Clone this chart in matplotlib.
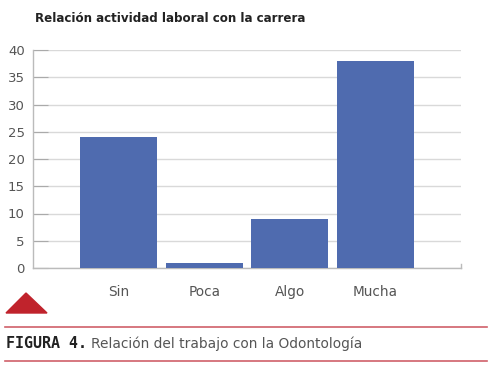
import matplotlib.pyplot as plt
from matplotlib.patches import Polygon
from matplotlib.lines import Line2D

categories = ["Sin", "Poca", "Algo", "Mucha"]
values = [24, 1, 9, 38]
yticks = [0, 5, 10, 15, 20, 25, 30, 35, 40]

bar_color = "#4F6BAF"
grid_color = "#d9d9d9"
text_color = "#555555"
red = "#c0232c"

fig = plt.figure(figsize=(4.91, 3.77), dpi=100)
ax = fig.add_axes([33 / 491, 1 - 268 / 377, 428 / 491, 218 / 377])

x = list(range(len(categories)))
ax.bar(x, values, width=0.9, color=bar_color, zorder=3)
ax.set_xlim(-1, 4)
ax.set_ylim(0, 40)
ax.set_yticks(yticks)
ax.set_xticks(x)
ax.set_xticklabels(categories)
ax.yaxis.grid(True, color=grid_color, linewidth=1, zorder=0)
for s in ["top", "right"]:
    ax.spines[s].set_visible(False)
for s in ["left", "bottom"]:
    ax.spines[s].set_color("#bbbbbb")
    ax.spines[s].set_linewidth(1)
ax.tick_params(axis="y", direction="in", length=11, color="#aaaaaa",
               labelsize=9.5, labelcolor=text_color, pad=6)
ax.tick_params(axis="x", length=0, labelsize=9.8, labelcolor=text_color, pad=12)
# small end tick on the bottom axis
ax.plot([4, 4], [0, 0.8], color="#bbbbbb", linewidth=1, clip_on=False)

fig.text(35 / 491, 1 - 19 / 377, "Relación actividad laboral con la carrera",
         fontsize=8.6, fontweight="bold", color="#222222", va="center")

# decorations
fig.patches.append(Polygon([[6 / 491, 1 - 313 / 377], [47 / 491, 1 - 313 / 377],
                            [26 / 491, 1 - 293 / 377]], closed=True,
                           transform=fig.transFigure, color=red))
for yy in [327, 361]:
    fig.lines.append(Line2D([5 / 491, 487 / 491], [1 - yy / 377] * 2,
                            transform=fig.transFigure, color="#d0606a", linewidth=1.2))

fig.text(6 / 491, 1 - 344 / 377, "FIGURA 4.", fontsize=10.8, fontweight="bold",
         family="DejaVu Sans Mono", color="#222222", va="center")
fig.text(91 / 491, 1 - 344 / 377, "Relación del trabajo con la Odontología",
         fontsize=9.9, color=text_color, va="center")

fig.savefig("out.png", dpi=100)
